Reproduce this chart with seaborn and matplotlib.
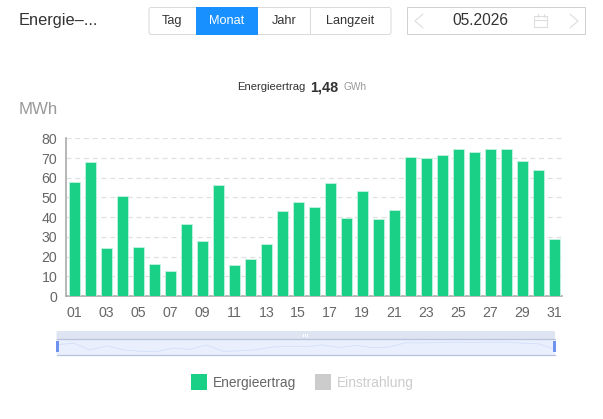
import matplotlib
matplotlib.use("Agg")
import matplotlib.pyplot as plt
from matplotlib.patches import Rectangle, FancyBboxPatch
import pandas as pd
import seaborn as sns

days = [f"{d:02d}" for d in range(1, 32)]
energy_mwh = [58.0, 67.8, 24.2, 50.7, 25.0, 16.0, 12.9, 36.5, 27.9, 56.2, 15.7,
              18.8, 26.2, 43.3, 47.7, 45.3, 57.3, 39.6, 53.4, 39.2, 43.6, 70.5,
              70.2, 71.6, 74.6, 72.9, 74.6, 74.8, 68.5, 63.8, 28.8]
y_ticks = [0, 10, 20, 30, 40, 50, 60, 70, 80]
range_buttons = ["Tag", "Monat", "Jahr", "Langzeit"]
legend_names = ["Energieertrag", "Einstrahlung"]

W, H = 603, 419
GREEN = "#1ad087"
BLUE = "#1890ff"
TEXT = "#666666"

sns.set_theme(style="white")
plt.rcParams["font.family"] = ["Liberation Sans", "DejaVu Sans"]

df = pd.DataFrame({"day": days, "energy": energy_mwh})
fig = plt.figure(figsize=(W / 100, H / 100), dpi=100, facecolor="white")


def px_axes(x0, y0, x1, y1, **kw):
    """Axes placed by pixel box, measured from the top-left corner."""
    return fig.add_axes([x0 / W, 1 - y1 / H, (x1 - x0) / W, (y1 - y0) / H], **kw)


def overlay(z):
    """Transparent full-figure axes that works in pixel coordinates."""
    layer = fig.add_axes([0, 0, 1, 1], zorder=z)
    layer.set_xlim(0, W)
    layer.set_ylim(H, 0)
    layer.axis("off")
    layer.patch.set_alpha(0)
    return layer


# Daily bars
ax = px_axes(66.3, 138.3, 562.3, 296, zorder=2)
sns.barplot(data=df, x="day", y="energy", color=GREEN, saturation=1, width=0.69,
            edgecolor="#c4f2de", linewidth=0.6, ax=ax, zorder=3)
ax.set_xlim(-0.5, 30.5)
ax.set_ylim(0, 80)
ax.set_xticks(range(0, 31, 2))
ax.set_xticklabels(days[::2])
ax.set_yticks(y_ticks)
ax.set_xlabel("")
ax.set_ylabel("")
ax.tick_params(axis="both", length=0, colors=TEXT, labelsize=10.2)
ax.tick_params(axis="x", pad=7)
ax.tick_params(axis="y", pad=6.5)
ax.grid(axis="y", color="#e0e0e0", linestyle=(0, (4, 3)), linewidth=0.9)
ax.set_axisbelow(True)
for side in ("top", "right"):
    ax.spines[side].set_visible(False)
for side in ("left", "bottom"):
    ax.spines[side].set_color("#aaaaaa")
    ax.spines[side].set_linewidth(1.2)

# Range slider: backing band, then the overview trace, then the handles on top
back = overlay(3)
back.add_patch(FancyBboxPatch((56.5, 331), 498.5, 23.5, boxstyle="round,pad=0,rounding_size=1.5",
                              fc="#dfe4f3", ec="none"))
for dx in (303, 305, 307):
    back.add_patch(Rectangle((dx, 333.5), 1.2, 3, fc="white", ec="none"))

mini = px_axes(57, 339, 555, 354.5, zorder=4)
mini.set_facecolor("#e9effd")
sns.lineplot(data=df, x=df.index, y="energy", color="#d3dffa", linewidth=0.6, ax=mini)
mini.set_xlim(0, 30)
mini.set_ylim(-5, 95)
mini.set(xticks=[], yticks=[], xlabel="", ylabel="")
for side, spine in mini.spines.items():
    spine.set_visible(side in ("top", "bottom"))
    spine.set_color("#b9c2dc")
    spine.set_linewidth(0.9)

# Page-level furniture
ui = overlay(5)
ui.add_patch(Rectangle((56, 341), 3, 11, fc="#6e92ee", ec="none"))
ui.add_patch(Rectangle((552.5, 341), 3, 11, fc="#6e92ee", ec="none"))

ui.text(19, 21, "Energie–...", fontsize=11.8, color="#333333", va="center")
ui.text(19, 109, "MWh", fontsize=12.2, color="#999999", va="center")

ui.text(237, 87.5, "Energieertrag", fontsize=8.1, color="#333333", va="center")
ui.text(310, 87, "1,48", fontsize=10.4, color="#333333", va="center", fontweight="bold")
ui.text(344, 87.5, "GWh", fontsize=7.3, color="#999999", va="center")

edges = [149, 196, 258, 310, 391]
ui.add_patch(FancyBboxPatch((149, 7.5), 242, 27, boxstyle="round,pad=0,rounding_size=2",
                            fc="white", ec="#d9d9d9", lw=0.7))
for i, name in enumerate(range_buttons):
    x0, x1 = edges[i], edges[i + 1]
    active = name == "Monat"
    if active:
        ui.add_patch(Rectangle((x0, 7), x1 - x0, 28, fc=BLUE, ec="none", zorder=3))
    elif i == 3:
        ui.plot([x0, x0], [7.5, 34.5], color="#d9d9d9", lw=0.7)
    ui.text((x0 + x1) / 2, 20.8, name, fontsize=9.2, ha="center", va="center",
            color="white" if active else "#333333", zorder=4)

ui.add_patch(Rectangle((406.5, 7.5), 178, 27, fc="white", ec="#d0d0d0", lw=0.7))
ui.text(480, 20.5, "05.2026", fontsize=11.2, color="#333333", ha="center", va="center")
ui.plot([423, 415, 423], [14, 21, 28], color="#dddddd", lw=0.8)
ui.plot([570, 578, 570], [14, 21, 28], color="#dddddd", lw=0.8)
ui.add_patch(Rectangle((534, 16), 13, 11.5, fc="none", ec="#dddddd", lw=0.8))
ui.plot([534, 547], [20, 20], color="#dddddd", lw=0.8)
ui.plot([537.5, 537.5], [14, 17], color="#dddddd", lw=0.8)
ui.plot([543.5, 543.5], [14, 17], color="#dddddd", lw=0.8)

# Legend swatches
ui.add_patch(Rectangle((191, 374), 16, 16, fc=GREEN, ec="none"))
ui.text(213, 382.5, legend_names[0], fontsize=9.9, color=TEXT, va="center")
ui.add_patch(Rectangle((315, 374), 16, 16, fc="#cccccc", ec="none"))
ui.text(337, 382.5, legend_names[1], fontsize=9.9, color="#cccccc", va="center")

fig.savefig("out.png", dpi=100, facecolor="white")
